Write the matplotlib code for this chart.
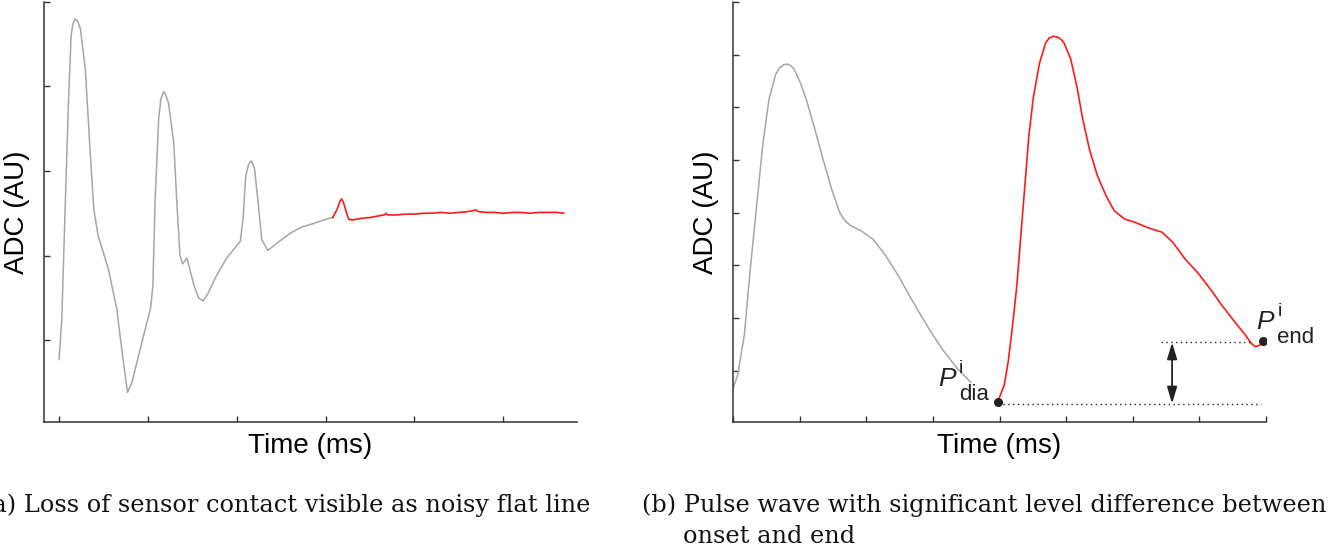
import matplotlib
matplotlib.use('Agg')
import matplotlib.pyplot as plt

plt.rcParams['font.family'] = ['Liberation Sans', 'DejaVu Sans']

# (a) sensor contact lost: damped oscillation, then a noisy flat line
a_gray_t = [0.0, 0.03, 0.07, 0.105, 0.135, 0.155, 0.18, 0.21, 0.24, 0.295, 0.35, 0.39,
            0.44, 0.555, 0.65, 0.71, 0.77, 0.82, 0.95, 1.03, 1.055, 1.08, 1.12, 1.145,
            1.175, 1.20, 1.23, 1.29, 1.325, 1.36, 1.39, 1.44, 1.47, 1.52, 1.57, 1.62,
            1.68, 1.75, 1.88, 2.04, 2.07, 2.10, 2.13, 2.16, 2.18, 2.20, 2.24, 2.28, 2.35,
            2.48, 2.61, 2.74, 2.87, 3.00, 3.08]
a_gray_v = [0.77, 1.25, 2.63, 3.81, 4.60, 4.74, 4.80, 4.77, 4.68, 4.20, 3.22, 2.55,
            2.23, 1.84, 1.36, 0.85, 0.38, 0.50, 1.05, 1.38, 1.64, 2.63, 3.61, 3.85,
            3.94, 3.90, 3.81, 3.34, 2.63, 2.00, 1.90, 1.97, 1.84, 1.64, 1.50, 1.46,
            1.56, 1.72, 1.96, 2.17, 2.43, 2.94, 3.07, 3.12, 3.09, 3.02, 2.63, 2.19, 2.06,
            2.17, 2.27, 2.34, 2.38, 2.43, 2.45]
a_red_t = [3.08, 3.13, 3.16, 3.18, 3.20, 3.23, 3.26, 3.30, 3.40, 3.50, 3.60, 3.66, 3.68,
           3.70, 3.80, 3.90, 4.00, 4.10, 4.20, 4.30, 4.40, 4.50, 4.60, 4.66, 4.69, 4.72,
           4.80, 4.90, 5.00, 5.10, 5.20, 5.30, 5.40, 5.50, 5.60, 5.68]
a_red_v = [2.45, 2.55, 2.64, 2.67, 2.63, 2.52, 2.43, 2.42, 2.44, 2.45, 2.47, 2.48, 2.50,
           2.48, 2.48, 2.49, 2.49, 2.50, 2.50, 2.51, 2.50, 2.51, 2.52, 2.53, 2.54, 2.52,
           2.51, 2.51, 2.50, 2.51, 2.51, 2.50, 2.51, 2.51, 2.51, 2.50]

# (b) previous beat (gray) and current pulse wave (red)
b_gray_t = [0.0, 0.07, 0.17, 0.26, 0.36, 0.45, 0.54, 0.64, 0.70, 0.76, 0.82, 0.87, 0.92,
            1.01, 1.10, 1.23, 1.35, 1.48, 1.60, 1.68, 1.76, 1.92, 2.10, 2.29, 2.48, 2.66,
            2.82, 2.98, 3.16, 3.35, 3.57]
b_gray_v = [0.67, 0.92, 1.68, 2.94, 4.20, 5.33, 6.15, 6.62, 6.75, 6.81, 6.82, 6.79, 6.72,
            6.47, 6.15, 5.58, 5.02, 4.45, 4.01, 3.85, 3.76, 3.66, 3.50, 3.19, 2.81, 2.40,
            2.05, 1.72, 1.38, 1.07, 0.78]
b_red_t = [3.97, 4.07, 4.13, 4.19, 4.26, 4.32, 4.38, 4.44, 4.51, 4.60, 4.69, 4.75, 4.81,
           4.88, 4.93, 4.97, 5.07, 5.16, 5.25, 5.35, 5.47, 5.60, 5.72, 5.88, 6.03, 6.22,
           6.44, 6.60, 6.78, 6.97, 7.16, 7.34, 7.53, 7.69, 7.78, 7.84, 7.91, 7.96]
b_red_v = [0.40, 0.73, 1.17, 1.80, 2.62, 3.57, 4.51, 5.46, 6.21, 6.84, 7.22, 7.32, 7.35,
           7.33, 7.28, 7.22, 6.91, 6.40, 5.77, 5.20, 4.70, 4.32, 4.04, 3.88, 3.82, 3.72,
           3.63, 3.44, 3.13, 2.87, 2.56, 2.24, 1.93, 1.68, 1.52, 1.46, 1.49, 1.56]
p_dia = (3.97, 0.40)
p_end = (7.96, 1.56)
arrow_t = 6.59
dot_line_start = 6.43

caption_a = '(a) Loss of sensor contact visible as noisy flat line'
caption_b1 = '(b) Pulse wave with significant level difference between'
caption_b2 = 'onset and end'

GRAY = '#a6a6a6'
RED = '#ff1a1a'
INK = '#222222'

fig = plt.figure(figsize=(13.42, 5.53), dpi=100)
ax_a = fig.add_axes([0.0328, 0.2369, 0.3972, 0.7595])
ax_b = fig.add_axes([0.5462, 0.2369, 0.3972, 0.7595])

for ax in (ax_a, ax_b):
    for side in ('top', 'right'):
        ax.spines[side].set_visible(False)
    for side in ('left', 'bottom'):
        ax.spines[side].set_color('#333333')
        ax.spines[side].set_linewidth(1.1)
    ax.tick_params(direction='in', length=4, width=1, color='#333333',
                   labelbottom=False, labelleft=False)
    ax.set_xlabel('Time (ms)', fontsize=20, labelpad=8)
    ax.set_ylabel('ADC (AU)', fontsize=20, labelpad=10)

ax_a.plot(a_gray_t, a_gray_v, color=GRAY, lw=1.1)
ax_a.plot(a_red_t, a_red_v, color=RED, lw=1.2)
ax_a.set_xlim(-0.17, 5.83)
ax_a.set_ylim(0.03, 5.0)
ax_a.set_xticks(range(0, 6))
ax_a.set_yticks(range(1, 6))

ax_b.plot(b_gray_t, b_gray_v, color=GRAY, lw=1.1)
ax_b.plot(b_red_t, b_red_v, color=RED, lw=1.2)
ax_b.set_xlim(0, 8)
ax_b.set_ylim(0.03, 8.0)
ax_b.set_xticks(range(0, 9))
ax_b.set_yticks(range(1, 9))

# level lines at onset and end, with the difference arrow between them
ax_b.plot([p_dia[0], p_end[0] - 0.03], [p_dia[1] - 0.02] * 2, color=INK, lw=1,
          linestyle=(0, (1, 2.5)))
ax_b.plot([dot_line_start, p_end[0] - 0.15], [p_end[1] - 0.02] * 2, color=INK, lw=1,
          linestyle=(0, (1, 2.5)))
ax_b.annotate('', xy=(arrow_t, p_dia[1] - 0.02), xytext=(arrow_t, p_end[1] - 0.02),
              arrowprops=dict(arrowstyle='<|-|>,head_length=1.0,head_width=0.3',
                              color=INK, lw=1.3, shrinkA=0, shrinkB=0))
ax_b.plot(*p_dia, 'o', color=INK, ms=5.5, zorder=5)
ax_b.plot(*p_end, 'o', color=INK, ms=5.5, zorder=5)

# P labels built from separate pieces so the sub/superscripts stay large
for pt, sub, off in [(p_dia, 'dia', (-43, 12)), (p_end, 'end', (-5, 9))]:
    ox, oy = off
    ax_b.annotate('P', xy=pt, xytext=(ox, oy), textcoords='offset points',
                  fontsize=19, style='italic', color=INK, va='baseline')
    ax_b.annotate('i', xy=pt, xytext=(ox + 15, oy + 9), textcoords='offset points',
                  fontsize=14, color=INK, va='baseline')
    ax_b.annotate(sub, xy=pt, xytext=(ox + 15, oy - 10), textcoords='offset points',
                  fontsize=16, color=INK, va='baseline')

cap_kw = dict(fontsize=17.3, family='DejaVu Serif', color='#111111', va='baseline')
fig.text(590 / 1342, 1 - 512 / 553, caption_a, ha='right', **cap_kw)
fig.text(642 / 1342, 1 - 512 / 553, caption_b1, ha='left', **cap_kw)
fig.text(683 / 1342, 1 - 543 / 553, caption_b2, ha='left', **cap_kw)

fig.savefig('out.png', dpi=100)
